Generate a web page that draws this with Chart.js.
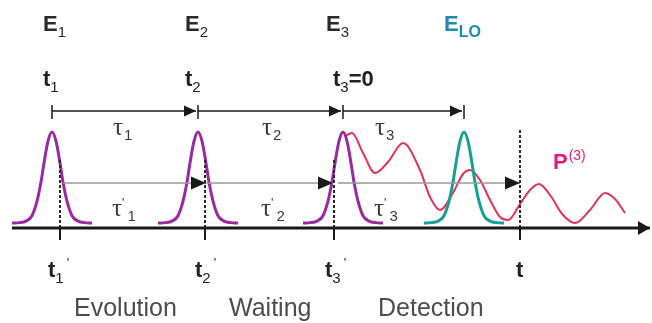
<!DOCTYPE html>
<html>
<head>
<meta charset="utf-8">
<script src="https://cdn.jsdelivr.net/npm/chart.js@4"></script>
<style>
  html, body { margin: 0; padding: 0; background: #fff; }
  #wrap { width: 652px; height: 323px; }
</style>
</head>
<body>
<div id="wrap"><canvas id="pulseChart" width="652" height="323"></canvas></div>
<script>
// x = time along the axis, y = height above the time axis
const pulseTimes = [52, 198, 343];      // E1, E2, E3 arrive (t1, t2, t3=0)
const loTime = 464;                      // local oscillator E_LO
const primedTimes = [60, 205, 334];     // t1', t2', t3'
const detectTime = 520;                 // t

// one pulse envelope, offset from its centre
const pulseShapeDx = [-40, -33, -26, -20, -15, -11, -8, -4, 0, 4, 8, 11, 15, 20, 26, 33, 40];
const pulseShapeAmp = [0, 0.004, 0.02, 0.08, 0.24, 0.45, 0.66, 0.9, 1, 0.9, 0.66, 0.45, 0.24, 0.08, 0.02, 0.004, 0];

// third-order polarisation P(3)
const signalX = [345, 352, 363, 375, 388, 403, 420, 430, 440, 453, 463, 470, 480, 490, 500, 508, 520, 530, 539, 550, 563, 575, 590, 605, 615, 625];
const signalY = [92, 95, 75, 55, 66, 85, 58, 31, 18, 35, 54, 58, 48, 28, 11, 8, 24, 38, 44, 33, 13, 5, 18, 35, 29, 15];

const fieldSubs = ['1', '2', '3', 'LO'];
const delaySubs = ['1', '2', '3'];
const stageNames = ['Evolution', 'Waiting', 'Detection'];

const PURPLE = '#9a2b9f';
const TEAL = '#18a096';
const RED = '#e33358';
const MAGENTA = '#e5197d';
const LO_BLUE = '#1f8cae';
const INK = '#1a1a1a';

const pulseBase = 5;
const pulseHeight = 91;
const topLine = 117;
const grayLine = 45;

function pulse(t, color) {
    return {
        data: pulseShapeDx.map((dx, i) => ({ x: t + dx, y: pulseBase + pulseHeight * pulseShapeAmp[i] })),
        showLine: true,
        borderColor: color,
        borderWidth: 3,
        pointRadius: 0,
        cubicInterpolationMode: 'monotone',
        order: 5
    };
}

function segment(x0, x1, y, color, width, extra) {
    return Object.assign({
        data: [{ x: x0, y: y }, { x: x1, y: y }],
        showLine: true,
        borderColor: color,
        borderWidth: width,
        pointRadius: 0,
        order: 4
    }, extra || {});
}

function vline(x, y0, y1, extra) {
    return Object.assign({
        data: [{ x: x, y: y0 }, { x: x, y: y1 }],
        showLine: true,
        borderColor: '#2a2a2a',
        borderWidth: 2,
        borderDash: [3, 2],
        pointRadius: 0,
        order: 2
    }, extra || {});
}

const topTimes = [...pulseTimes, loTime];
const axisTimes = [...primedTimes, detectTime];
const datasets = [];

// time axis with its arrow
datasets.push(segment(12, 650, 0, INK, 3, { arrow: { len: 12, half: 7 }, order: 1 }));

// upper time line t1 -> t2 -> t3 -> LO
for (let i = 0; i < topTimes.length - 1; i++) {
    datasets.push(segment(topTimes[i], topTimes[i + 1] - 2, topLine, INK, 1.5, { arrow: { len: 12, half: 5.5 } }));
}
datasets.push({
    data: topTimes.map(t => ({ x: t, y: topLine - 1 })),
    showLine: false,
    pointStyle: 'line',
    rotation: 90,
    pointRadius: 7,
    pointBorderWidth: 1.5,
    pointBorderColor: INK,
    order: 1
});

// grey delay line t1' -> t2' -> t3' -> t
datasets.push(segment(primedTimes[0] + 3, primedTimes[1] + 1, grayLine, '#9a9a9a', 1.5, { arrow: { len: 15, half: 6.5 } }));
datasets.push(segment(primedTimes[1], primedTimes[2] - 1, grayLine, '#9a9a9a', 1.5, { arrow: { len: 15, half: 6.5 } }));
datasets.push(segment(primedTimes[2] + 4, detectTime, grayLine, '#9a9a9a', 1.5, { arrow: { len: 15, half: 6.5 } }));

// dashed markers and the ticks under the axis
datasets.push(vline(primedTimes[0], 0, 68));
datasets.push(vline(primedTimes[1], 0, 68));
datasets.push(vline(primedTimes[2], 0, 70));
datasets.push(vline(detectTime, 0, 98));
datasets.push({
    data: axisTimes.map(t => ({ x: t, y: -6 })),
    showLine: false,
    pointStyle: 'line',
    rotation: 90,
    pointRadius: 6,
    pointBorderWidth: 2,
    pointBorderColor: INK,
    order: 1
});

// the three excitation pulses, the LO pulse and the signal
pulseTimes.forEach(t => datasets.push(pulse(t, PURPLE)));
datasets.push(pulse(loTime, TEAL));
datasets.push({
    data: signalX.map((x, i) => ({ x: x, y: signalY[i] })),
    showLine: true,
    borderColor: RED,
    borderWidth: 2,
    pointRadius: 0,
    cubicInterpolationMode: 'monotone',
    order: 6
});

// arrowheads at the end of flagged lines
const arrowHeads = {
    id: 'arrowHeads',
    afterDatasetsDraw(chart) {
        const ctx = chart.ctx;
        chart.data.datasets.forEach((ds, i) => {
            if (!ds.arrow) return;
            const pts = chart.getDatasetMeta(i).data;
            const tip = pts[pts.length - 1];
            ctx.save();
            ctx.fillStyle = INK;
            ctx.beginPath();
            ctx.moveTo(tip.x, tip.y);
            ctx.lineTo(tip.x - ds.arrow.len, tip.y - ds.arrow.half);
            ctx.lineTo(tip.x - ds.arrow.len, tip.y + ds.arrow.half);
            ctx.closePath();
            ctx.fill();
            ctx.restore();
        });
    }
};

const SANS = '"Liberation Sans", Arial, sans-serif';
const SERIF = '"Liberation Serif", "DejaVu Serif", serif';
const bigBold = 'bold 22px ' + SANS;
const small = '15px ' + SANS;
const tau = '25px ' + SERIF;

// text parts: [text, font, baseline shift, extra gap before]
const notes = [];
fieldSubs.forEach((s, i) => {
    const lefts = [43, 185, 326, 444];
    const isLo = s === 'LO';
    notes.push({
        x: lefts[i], y: 197, color: isLo ? LO_BLUE : '#2a2a2a',
        parts: [['E', bigBold, 0, 0], [s, isLo ? 'bold 16px ' + SANS : small, 6, 0]]
    });
});
notes.push({ x: 43, y: 142, color: '#222', parts: [['t', bigBold, 0, 0], ['1', small, 6, 0]] });
notes.push({ x: 185, y: 142, color: '#222', parts: [['t', bigBold, 0, 0], ['2', small, 6, 0]] });
notes.push({ x: 333, y: 142, color: '#222', parts: [['t', bigBold, 0, 0], ['3', small, 6, 0], ['=0', bigBold, 0, 0]] });
[113, 262, 375].forEach((x, i) => {
    notes.push({ x: x, y: 93, color: '#3a3a3a', parts: [['τ', tau, 0, 0], [delaySubs[i], small, 5, 1]] });
    notes.push({ x: x - 1, y: 12, color: '#3a3a3a', parts: [['τ', tau, 0, 0], ["'", '13px ' + SANS, -9, 0], [delaySubs[i], small, 5, 3]] });
});
[48, 195, 325].forEach((x, i) => {
    notes.push({ x: x, y: -49, color: '#222', parts: [['t', bigBold, 0, 0], [delaySubs[i], small, 6, 0], ["'", '13px ' + SANS, -10, 3]] });
});
notes.push({ x: 516, y: -49, color: '#222', parts: [['t', bigBold, 0, 0]] });
[74, 229, 378].forEach((x, i) => {
    notes.push({ x: x, y: -88, color: '#4d4d4d', parts: [[stageNames[i], '25px ' + SANS, 0, 0]] });
});
notes.push({ x: 553, y: 59, color: MAGENTA, parts: [['P', bigBold, 0, 0], ['(3)', '14px ' + SANS, -9, 1]] });

const textLabels = {
    id: 'textLabels',
    afterDraw(chart) {
        const ctx = chart.ctx;
        const xs = chart.scales.x, ys = chart.scales.y;
        ctx.save();
        ctx.textBaseline = 'alphabetic';
        ctx.textAlign = 'left';
        notes.forEach(n => {
            let cx = xs.getPixelForValue(n.x);
            const by = ys.getPixelForValue(n.y);
            ctx.fillStyle = n.color;
            n.parts.forEach(([txt, font, dy, gap]) => {
                ctx.font = font;
                cx += gap;
                ctx.fillText(txt, cx, by + dy);
                cx += ctx.measureText(txt).width;
            });
        });
        ctx.restore();
    }
};

new Chart(document.getElementById('pulseChart').getContext('2d'), {
    type: 'scatter',
    data: { datasets: datasets },
    options: {
        responsive: false,
        animation: false,
        layout: { padding: 0, autoPadding: false },
        scales: {
            x: { type: 'linear', min: 0, max: 652, display: false },
            y: { type: 'linear', min: -95, max: 228, display: false }
        },
        plugins: {
            legend: { display: false },
            tooltip: { enabled: false }
        }
    },
    plugins: [arrowHeads, textLabels]
});
</script>
</body>
</html>
